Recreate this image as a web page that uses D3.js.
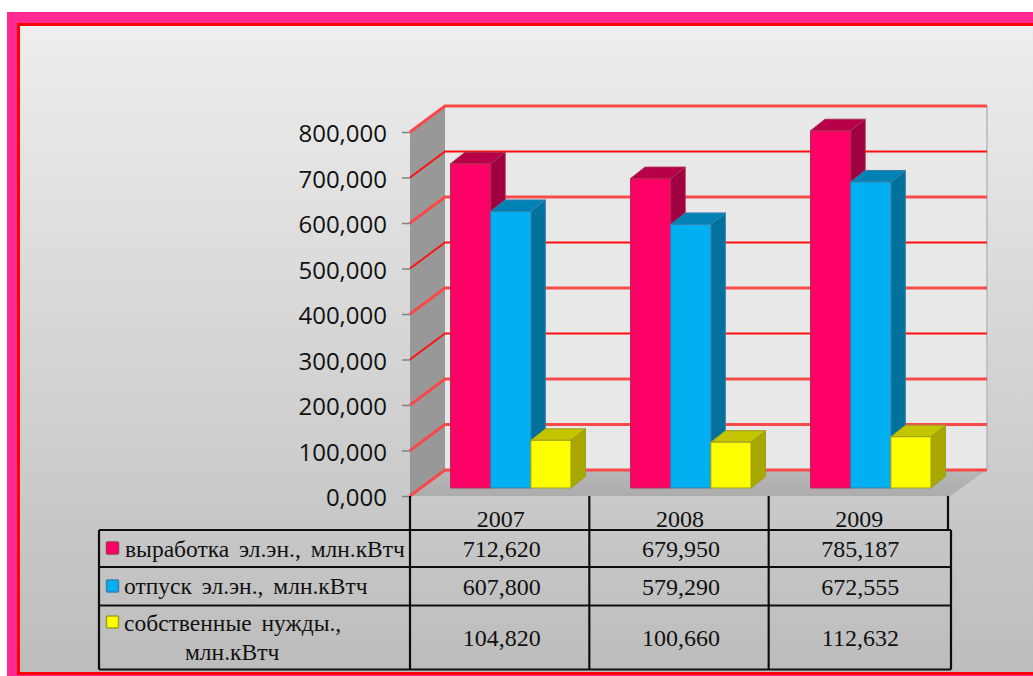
<!DOCTYPE html>
<html><head><meta charset="utf-8">
<script src="https://cdn.jsdelivr.net/npm/d3@7/dist/d3.min.js"></script>
<style>html,body{margin:0;padding:0;background:#fff;overflow:hidden}svg{display:block}</style>
</head><body><svg id="c" width="1033" height="676"></svg>
<script>
const years = ["2007","2008","2009"];
const seriesNames = ["выработка эл.эн., млн.кВтч","отпуск эл.эн., млн.кВтч","собственные нужды., млн.кВтч"];
const generation = [712620,679950,785187];
const supply = [607800,579290,672555];
const ownNeeds = [104820,100660,112632];
const tableGeneration = ["712,620","679,950","785,187"];
const tableSupply = ["607,800","579,290","672,555"];
const tableOwnNeeds = ["104,820","100,660","112,632"];
const tickValues = [0,100000,200000,300000,400000,500000,600000,700000,800000];
const tickLabels = ["0,000","100,000","200,000","300,000","400,000","500,000","600,000","700,000","800,000"];
const faceColors = ["#ff0066","#00b0f0","#ffff00"];
const topColors = ["#b80048","#0082b4","#c4c400"];
const sideColors = ["#a00040","#006f9c","#a8a800"];
const edgeColors = ["#a8304f","#3a7fae","#9aa020"];

const svg = d3.select("#c");
const defs = svg.append("defs");
const bg = defs.append("linearGradient").attr("id","bg").attr("x1",0).attr("y1",0).attr("x2",0).attr("y2",1);
bg.append("stop").attr("offset",0).attr("stop-color","#eeeeee");
bg.append("stop").attr("offset",1).attr("stop-color","#bcbcbc");
const fl = defs.append("linearGradient").attr("id","fl").attr("x1",0).attr("y1",0).attr("x2",0).attr("y2",1);
fl.append("stop").attr("offset",0).attr("stop-color","#b8b8b8");
fl.append("stop").attr("offset",1).attr("stop-color","#acacac");
defs.append("filter").attr("id","soft").append("feGaussianBlur").attr("stdDeviation",0.5);
defs.append("filter").attr("id","softer").append("feGaussianBlur").attr("stdDeviation",0.3);

// frame
svg.append("rect").attr("x",7).attr("y",12).attr("width",1026).attr("height",664).attr("fill","#ff2a92");
svg.append("rect").attr("x",18.5).attr("y",24.5).attr("width",1020).attr("height",649).attr("fill","url(#bg)").attr("stroke","#ff0000").attr("stroke-width",3);

const W = 540, frontLeft = 410, frontBase = 496, plotH = 364;
const dx = 35, dy = -26;
const y = d3.scaleLinear().domain([0,800000]).range([frontBase,frontBase-plotH]);
const x = d3.scaleBand().domain(years).range([frontLeft,frontLeft+W]);
const xTable = d3.scaleBand().domain(years).range([frontLeft,948]);
const inner = d3.scaleBand().domain(d3.range(3)).range([0,120.5]);
const depth = {x:14.5,y:-11.5};
const barShift = {x:40.5,y:-8};
const poly = pts => pts.map(p=>p.join(",")).join(" ");
const g = svg.append("g").attr("filter","url(#soft)");

// walls
const backRight = frontLeft+W+dx+2;
g.append("polygon").attr("points",poly([[frontLeft,y(0)],[frontLeft+dx,y(0)+dy],[backRight,y(0)+dy],[frontLeft+W,y(0)]])).attr("fill","url(#fl)");
g.append("polygon").attr("points",poly([[frontLeft,y(0)],[frontLeft+dx,y(0)+dy],[frontLeft+dx,y(800000)+dy],[frontLeft,y(800000)]])).attr("fill","#989898");
g.append("rect").attr("x",frontLeft+dx).attr("y",y(800000)+dy).attr("width",backRight-frontLeft-dx).attr("height",plotH).attr("fill","#e8e8e8");
g.append("line").attr("x1",backRight).attr("x2",backRight).attr("y1",y(800000)+dy).attr("y2",y(0)+dy).attr("stroke","#b8b8b8").attr("stroke-width",1.5);

// gridlines
tickValues.forEach((t,i)=>{
  const yy = y(t);
  const thin = i===7 || i===5 || i===3;
  g.append("polyline").attr("points",poly([[frontLeft,yy],[frontLeft+dx,yy+dy],[backRight,yy+dy]]))
    .attr("fill","none").attr("stroke",thin?"#ff1010":"#f84a4a").attr("stroke-width",thin?1.8:3);
});

// axis
const axis = d3.axisLeft(y).tickValues(tickValues).tickSize(8).tickFormat((d,i)=>tickLabels[i]);
const ax = svg.append("g").attr("transform",`translate(${frontLeft},0)`).call(axis);
ax.select(".domain").remove();
ax.selectAll("line").attr("stroke","#808080").attr("stroke-width",1.5);
ax.selectAll("text").attr("x",-23).attr("dy","0.4em").attr("fill","#111").attr("font-family","'Open Sans'").attr("font-size",24);

// bars
const allSeries = [generation,supply,ownNeeds];
years.forEach((yr,c)=>{
  allSeries.forEach((vals,s)=>{
    const x0 = x(yr)+barShift.x+inner(s), x1 = x0+inner.bandwidth();
    const b = y(0)+barShift.y, t = y(vals[c])+barShift.y;
    const bar = g.append("g").attr("stroke",edgeColors[s]).attr("stroke-width",1).attr("stroke-linejoin","round");
    bar.append("polygon").attr("points",poly([[x1,b],[x1+depth.x,b+depth.y],[x1+depth.x,t+depth.y],[x1,t]])).attr("fill",sideColors[s]);
    bar.append("polygon").attr("points",poly([[x0,t],[x0+depth.x,t+depth.y],[x1+depth.x,t+depth.y],[x1,t]])).attr("fill",topColors[s]);
    bar.append("rect").attr("x",x0).attr("y",t).attr("width",x1-x0).attr("height",b-t).attr("fill",faceColors[s]);
  });
});

// data table
const tableLeft = 99, tableRight = 951;
const rows = [530,567,605.5,669.5];
const cols = xTable.domain().map(d=>xTable(d)).concat(xTable.range()[1]);
const tb = svg.append("g").attr("stroke","#111").attr("fill","none").attr("filter","url(#softer)");
rows.forEach(r=>tb.append("line").attr("x1",tableLeft).attr("x2",tableRight).attr("y1",r).attr("y2",r).attr("stroke-width",2.2));
tb.append("line").attr("x1",tableLeft).attr("x2",tableLeft).attr("y1",rows[0]).attr("y2",rows[3]).attr("stroke-width",2.2);
tb.append("line").attr("x1",tableRight).attr("x2",tableRight).attr("y1",rows[0]).attr("y2",rows[3]).attr("stroke-width",2.2);
cols.forEach((c,i)=>{
  tb.append("line").attr("x1",c).attr("x2",c).attr("y1",frontBase).attr("y2",i===3?rows[0]:rows[3]).attr("stroke-width",2.2);
});
const serif = "'Liberation Serif'";
const txt = (xx,yy,s,size,anchor="middle",ws=0)=>svg.append("text").attr("x",xx).attr("y",yy).text(s)
  .attr("font-family",serif).attr("font-size",size).attr("text-anchor",anchor).attr("fill","#111").attr("word-spacing",ws);
years.forEach((yr,i)=>txt(xTable(yr)+xTable.bandwidth()/2+1,527,yr,24));
[tableGeneration,tableSupply,tableOwnNeeds].forEach((vals,r)=>{
  vals.forEach((v,i)=>txt(xTable(years[i])+xTable.bandwidth()/2+2,[557,595,646][r],v,24));
});
// legend
const keyY = [548,586,622];
const labelX = [125,124,124];
const labelLines = [[seriesNames[0]],[seriesNames[1]],[seriesNames[2].split(" млн")[0],"млн"+seriesNames[2].split(" млн")[1]]];
seriesNames.forEach((n,i)=>{
  svg.append("rect").attr("x",106.5).attr("y",keyY[i]-6).attr("width",12).attr("height",12).attr("rx",1).attr("fill",faceColors[i]).attr("stroke",edgeColors[i]).attr("stroke-width",1.5);
  txt(labelX[i],[557,594,631][i],labelLines[i][0],23.5,"start",4);
});
txt(185,660,labelLines[2][1],23.5,"start");
</script></body></html>
